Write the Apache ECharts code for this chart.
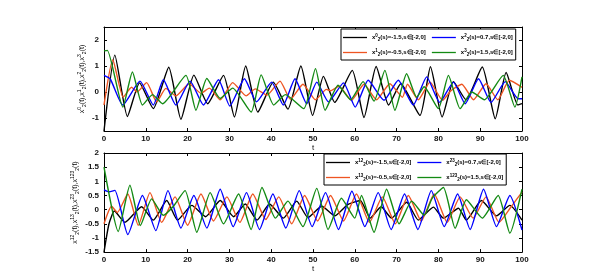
<!DOCTYPE html>
<html><head><meta charset="utf-8">
<script src="https://cdn.jsdelivr.net/npm/echarts@6/dist/echarts.min.js"></script>
<style>html,body{margin:0;padding:0;background:#fff}#c{width:606px;height:274px}</style>
</head><body><div id="c"></div>
<script>
// ---- data: [t, value] pairs ----
const topX0 = [[0,-1.5],[2.6,1.42],[5.6,-0.94],[8.5,0.35],[11.8,-0.64],[15.5,0.95],[18.4,-1.05],[21.5,0.65],[24.8,-0.45],[28.6,0.64],[31.2,-0.96],[33.9,1.0],[36.8,-0.77],[40.5,0.38],[44,-0.66],[47.1,1.0],[49.9,-0.9],[52.5,0.6],[55.2,-0.4],[59.4,0.83],[62.2,-0.98],[65.1,0.98],[68.1,-0.5],[71,0.32],[75.6,-0.9],[78.1,0.97],[80.9,-0.96],[83.6,0.4],[86.6,-0.3],[90.5,0.96],[93.6,-1.03],[96.2,0.75],[99,-0.5],[100,-0.45]];
const topX1 = [[0,-0.5],[2.1,1.24],[4.6,-0.2],[6.6,0.18],[7.9,0.0],[10.2,0.36],[12.6,-0.38],[14.8,0.14],[17.2,-0.15],[20.4,0.32],[23.2,-0.05],[25.2,0.15],[27.8,-0.3],[30.8,0.36],[34,-0.15],[36.2,0.12],[39,-0.12],[42.1,0.42],[44.6,-0.28],[47.6,0.3],[50.6,-0.3],[53.2,0.1],[54.2,0.05],[56.2,0.22],[59.2,-0.32],[62.2,0.3],[65.2,-0.3],[68.4,0.32],[71.4,-0.2],[72.6,0.3],[75.2,-0.3],[78,0.38],[81,-0.32],[83,0.05],[85.6,0.3],[88.4,-0.3],[91.4,0.32],[94.2,-0.3],[97,0.45],[100,0.18]];
const topX2 = [[0,0.64],[1.5,0.5],[4.5,-0.5],[8.6,0.42],[11.8,-0.5],[14.2,0.47],[17.2,-0.5],[20.6,0.42],[23.8,-0.5],[27.4,0.47],[30.1,-0.54],[33.6,0.51],[36.5,-0.38],[40.1,0.38],[42.9,-0.5],[45.7,0.51],[48.5,-0.45],[50.9,0.38],[53.7,-0.38],[57.3,0.35],[60.1,-0.58],[63.2,0.45],[67,-0.32],[70.4,0.45],[74,-0.5],[77.2,0.58],[80.3,-0.4],[83.6,0.38],[86.4,-0.45],[89.6,0.51],[92.6,-0.4],[96,0.4],[99.1,-0.26],[100,-0.26]];
const topX3 = [[0,1.58],[0.8,1.6],[4.5,-0.58],[6.8,0.77],[9.2,-0.5],[11.6,-0.1],[14,-0.45],[19.6,0.64],[22,-0.7],[24.6,0.52],[27.8,-0.25],[30.8,0.15],[35.2,-0.77],[37.6,0.66],[40.6,-0.5],[43.4,-0.1],[47.8,-0.64],[50.6,0.9],[52.9,-0.7],[56,0.26],[59,-0.3],[62,0.4],[64.6,-0.35],[67.2,0.83],[69.6,-0.7],[72.4,0.7],[74.8,-0.2],[76.6,0.2],[80,-0.64],[82.4,0.64],[85.2,-0.64],[88,0.0],[91,-0.3],[95.5,0.64],[98.3,-0.58],[100,0.58]];
const botX12 = [[0,-1.5],[1.2,-0.5],[2.5,-0.05],[5,-0.45],[9,0.1],[11.8,-0.37],[15,0.32],[17.6,-0.37],[21,0.15],[24.3,-0.25],[27.8,0.32],[31,-0.25],[33.8,0.2],[36.6,-0.37],[39.6,0.2],[42.9,-0.3],[46.1,0.3],[48.8,-0.28],[52.1,0.12],[55.2,-0.22],[58.3,0.18],[61.3,0.32],[63.7,-0.3],[66.3,0.1],[68.8,-0.3],[72.4,0.26],[75.2,-0.37],[78.8,0.09],[81.2,-0.3],[84.8,0.05],[86.7,-0.37],[90.3,0.32],[93.9,-0.22],[97.1,0.15],[100,-0.37]];
const botX13 = [[0,-0.5],[1.8,0.12],[3.2,-0.1],[5.7,0.55],[8.2,-0.55],[11,0.6],[13.8,-0.45],[17,0.45],[20,-0.55],[23.2,0.55],[26.2,-0.4],[29.4,0.45],[32.5,-0.45],[35.6,0.55],[38.7,-0.35],[41.8,0.45],[44.9,-0.5],[48,0.5],[51.1,-0.4],[54.2,0.5],[57.3,-0.4],[60.4,0.55],[63.5,-0.45],[66.6,0.45],[69.7,-0.5],[72.8,0.5],[75.9,-0.4],[79,0.55],[82.1,-0.45],[85.2,0.45],[88.3,-0.3],[91.4,0.45],[94.5,-0.45],[97.4,0.1],[100,0.62]];
const botX23 = [[0,0.7],[1.2,0.63],[2.6,0.68],[5.7,-0.88],[9.2,0.5],[12.4,-0.74],[15.3,0.67],[18.4,-0.65],[21.5,0.5],[24.6,-0.65],[27.8,0.72],[30.9,-0.6],[34.1,0.6],[37.2,-0.7],[40.4,0.55],[43.5,-0.65],[46.7,0.67],[49.8,-0.6],[53,0.6],[56.1,-0.7],[59.3,0.65],[62.4,-0.6],[65.6,0.6],[68.7,-0.7],[71.9,0.55],[75.1,-0.7],[78.3,0.67],[81.4,-0.6],[84.6,0.55],[87.6,-0.7],[90.8,0.72],[93.9,-0.6],[97.1,0.5],[100,-0.72]];
const botX123 = [[0,1.5],[3.4,-0.77],[6.2,0.86],[8.7,-0.56],[11.4,0.38],[14.2,-0.2],[16.5,0.1],[19.4,0.67],[22.2,-0.8],[25.4,0.6],[28.6,-0.5],[32.2,0.55],[35.2,-0.7],[37.8,0.78],[41,-0.3],[44,0.3],[47.6,-0.6],[50.9,0.75],[53.6,-0.7],[56.8,0.4],[60,-0.3],[61.6,0.5],[64.6,-0.8],[67.6,0.72],[70.6,-0.5],[73.6,0.3],[76.6,-0.2],[78.5,0.4],[81.2,0.78],[84,-0.66],[86.7,0.35],[90.5,-0.3],[94.3,0.5],[97.1,-0.83],[100,0.72]];

const xTicks = [0,10,20,30,40,50,60,70,80,90,100];
const topYTicks = [-1,0,1,2];
const botYTicks = [-1.5,-1,-0.5,0,0.5,1,1.5,2];

const topNames = ['x0','x1','x2','x3'];
const topLabels = {
  x0:'{x|x}{sup|0}{sub|2}{x|(s)=-1.5,s∈[-2,0]}',
  x1:'{x|x}{sup|1}{sub|2}{x|(s)=-0.5,s∈[-2,0]}',
  x2:'{x|x}{sup|2}{sub|2}{x|(s)=0.7,s∈[-2,0]}',
  x3:'{x|x}{sup|3}{sub|2}{x|(s)=1.5,s∈[-2,0]}'
};
const botNames = ['x12','x13','x23','x123'];
const botLabels = {
  x12:'{x|x}{sup|12}{sub|2}{x|(s)=-1.5,s∈[-2,0]}',
  x13:'{x|x}{sup|13}{sub|2}{x|(s)=-0.5,s∈[-2,0]}',
  x23:'{x|x}{sup|23}{sub|2}{x|(s)=0.7,s∈[-2,0]}',
  x123:'{x|x}{sup|123}{sub|2}{x|(s)=1.5,s∈[-2,0]}'
};
const colors = ['#000000','#EE5522','#0000FF','#138A13'];

const FONT = 'Liberation Sans';
const legRich = {
  x:{fontSize:6,fontWeight:'bold',fontFamily:FONT,color:'#000',lineHeight:9,verticalAlign:'middle'},
  sup:{fontSize:4.5,fontWeight:'bold',fontFamily:FONT,color:'#000',lineHeight:4.5,verticalAlign:'top'},
  sub:{fontSize:4.5,fontWeight:'bold',fontFamily:FONT,color:'#000',lineHeight:4.5,verticalAlign:'bottom'}
};
const nameRich = {
  x:{fontSize:7,fontFamily:FONT,color:'#000',lineHeight:10,verticalAlign:'middle'},
  sup:{fontSize:5,fontFamily:FONT,color:'#000',lineHeight:5,verticalAlign:'top'},
  sub:{fontSize:5,fontFamily:FONT,color:'#000',lineHeight:5,verticalAlign:'bottom'}
};

function xAxes(gi){
  const base = {gridIndex:gi,type:'value',min:0,max:100,interval:10,
    axisLine:{onZero:false,lineStyle:{color:'#000',width:1}},
    axisTick:{inside:true,length:3,lineStyle:{color:'#000'}},
    splitLine:{show:false}};
  return [
    Object.assign({},base,{position:'bottom',name:'t',nameLocation:'middle',nameGap:12,
      nameTextStyle:{fontSize:8,fontFamily:FONT,color:'#111'},
      axisLabel:{fontSize:8,fontFamily:FONT,color:'#111',margin:4,fontWeight:'bold',
        customValues:xTicks}}),
    Object.assign({},base,{position:'top',axisLabel:{show:false}})
  ];
}
function yAxes(gi,min,max,ticks,interval,nameStr,gap){
  const base = {gridIndex:gi,type:'value',min:min,max:max,interval:interval,
    axisLine:{onZero:false,lineStyle:{color:'#000',width:1}},
    axisTick:{inside:true,length:3,lineStyle:{color:'#000'},customValues:ticks},
    splitLine:{show:false}};
  return [
    Object.assign({},base,{position:'left',name:nameStr,nameLocation:'middle',nameRotate:90,nameGap:gap,
      nameMoveOverlap:false,
      nameTextStyle:{rich:nameRich},
      axisLabel:{fontSize:8,fontFamily:FONT,color:'#111',margin:5,fontWeight:'bold',customValues:ticks}}),
    Object.assign({},base,{position:'right',axisLabel:{show:false}})
  ];
}

const chart = echarts.init(document.getElementById('c'),null,{renderer:'canvas'});
const topData=[topX0,topX1,topX2,topX3];
const botData=[botX12,botX13,botX23,botX123];
const series=[];
topNames.forEach((n,i)=>series.push({name:n,type:'line',xAxisIndex:0,yAxisIndex:0,data:topData[i],smooth:0.18,
  symbol:'none',lineStyle:{color:colors[i],width:1.4},itemStyle:{color:colors[i]},animation:false}));
botNames.forEach((n,i)=>series.push({name:n,type:'line',xAxisIndex:2,yAxisIndex:2,data:botData[i],smooth:0.18,
  symbol:'none',lineStyle:{color:colors[i],width:1.4},itemStyle:{color:colors[i]},animation:false}));

function legend(names,labels,left,top,width){
  return {data:[names[0],names[2],names[1],names[3]],left:left,top:top,width:width,orient:'horizontal',
    icon:'rect',itemWidth:24,itemHeight:1.3,itemGap:6,padding:[4,3,3,2],
    borderColor:'#000',borderWidth:1,backgroundColor:'#fff',
    formatter:n=>labels[n],textStyle:{rich:legRich,padding:[0,0,0,0]},selectedMode:false};
}

chart.setOption({
  animation:false,
  backgroundColor:'#fff',
  grid:[{left:104,top:27,width:418,height:104},{left:104,top:153,width:418,height:102}],
  xAxis:[...xAxes(0),...xAxes(1)],
  yAxis:[
    ...yAxes(0,-1.5,2.5,topYTicks,0.5,'{x|x}{sup|0}{sub|2}{x|(t),x}{sup|1}{sub|2}{x|(t),x}{sup|2}{sub|2}{x|(t),x}{sup|3}{sub|2}{x|(t)}',17),
    ...yAxes(1,-1.5,2,botYTicks,0.5,'{x|x}{sup|12}{sub|2}{x|(t),x}{sup|13}{sub|2}{x|(t),x}{sup|23}{sub|2}{x|(t),x}{sup|123}{sub|2}{x|(t)}',24)
  ],
  legend:[legend(topNames,topLabels,341,29,176),legend(botNames,botLabels,324,154,193)],
  series:series
});
</script></body></html>
